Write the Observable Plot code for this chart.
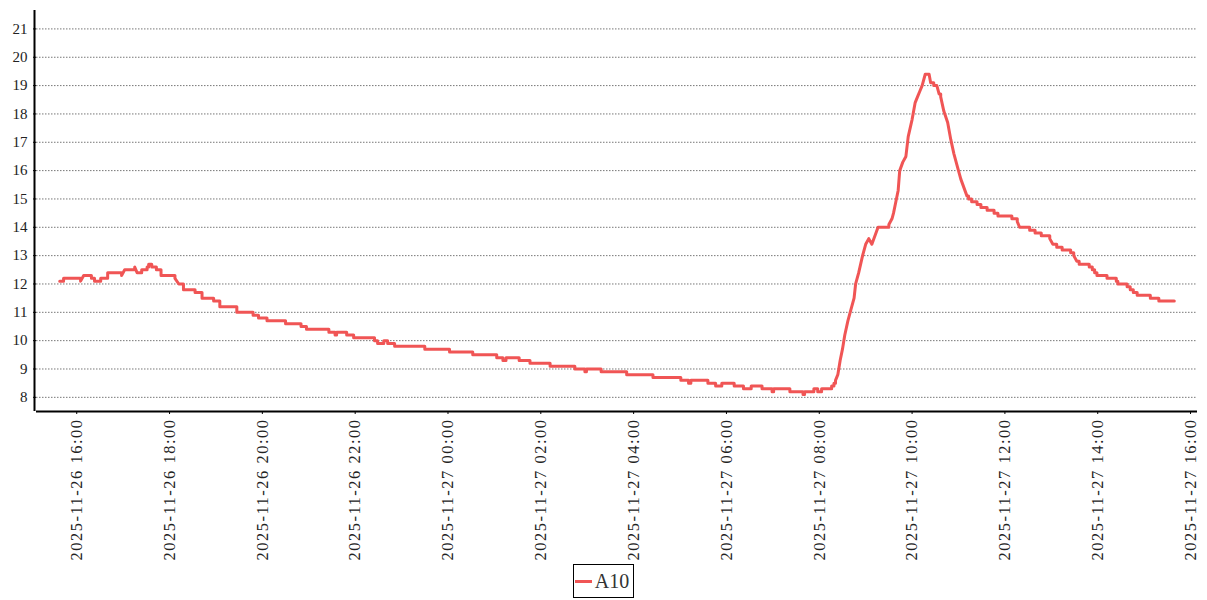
<!DOCTYPE html>
<html>
<head>
<meta charset="utf-8">
<script src="https://cdn.jsdelivr.net/npm/d3@7"></script>
<script src="https://cdn.jsdelivr.net/npm/@observablehq/plot@0.6"></script>
<style>
  body { margin: 0; background: #fff; }
  #legend { display: flex; justify-content: center; margin-top: 2px; }
  .box { display: inline-flex; align-items: center; border: 1px solid #000; height: 32px; padding: 0 4px 0 1px;
         font-family: "Liberation Serif", serif; font-size: 20px; color: #333; }
  .sw { width: 17px; height: 3px; background: #f05555; margin-right: 3px; }
  g[aria-label="x-axis tick label"] text { letter-spacing: 1.5px; }
</style>
</head>
<body>
<div id="chart"></div>
<div id="legend"></div>
<script>
const seriesName = "A10";

const times = [
  "2025-11-26 15:38","2025-11-26 15:43","2025-11-26 16:05","2025-11-26 16:09","2025-11-26 16:19",
  "2025-11-26 16:23","2025-11-26 16:31","2025-11-26 16:40","2025-11-26 16:58","2025-11-26 17:02",
  "2025-11-26 17:15","2025-11-26 17:18","2025-11-26 17:24","2025-11-26 17:31","2025-11-26 17:33",
  "2025-11-26 17:37","2025-11-26 17:43","2025-11-26 17:49","2025-11-26 18:07","2025-11-26 18:12",
  "2025-11-26 18:18","2025-11-26 18:33","2025-11-26 18:42","2025-11-26 18:57","2025-11-26 19:05",
  "2025-11-26 19:27","2025-11-26 19:48","2025-11-26 19:55","2025-11-26 20:06","2025-11-26 20:30",
  "2025-11-26 20:50","2025-11-26 20:57","2025-11-26 21:26","2025-11-26 21:34","2025-11-26 21:36",
  "2025-11-26 21:49","2025-11-26 21:58","2025-11-26 22:25","2025-11-26 22:29","2025-11-26 22:37",
  "2025-11-26 22:42","2025-11-26 22:51","2025-11-26 23:30","2025-11-27 00:02","2025-11-27 00:32",
  "2025-11-27 01:03","2025-11-27 01:11","2025-11-27 01:15","2025-11-27 01:32","2025-11-27 01:46",
  "2025-11-27 02:12","2025-11-27 02:44","2025-11-27 02:57","2025-11-27 02:59","2025-11-27 03:18",
  "2025-11-27 03:51","2025-11-27 04:25","2025-11-27 05:01","2025-11-27 05:11","2025-11-27 05:14",
  "2025-11-27 05:36","2025-11-27 05:46","2025-11-27 05:54","2025-11-27 06:10","2025-11-27 06:22",
  "2025-11-27 06:32","2025-11-27 06:46","2025-11-27 06:59","2025-11-27 07:01","2025-11-27 07:22",
  "2025-11-27 07:39","2025-11-27 07:41","2025-11-27 07:53","2025-11-27 07:58","2025-11-27 08:03",
  "2025-11-27 08:16","2025-11-27 08:19","2025-11-27 08:21","2025-11-27 08:24","2025-11-27 08:27",
  "2025-11-27 08:30","2025-11-27 08:33","2025-11-27 08:37","2025-11-27 08:41","2025-11-27 08:45",
  "2025-11-27 08:47","2025-11-27 08:51","2025-11-27 08:56","2025-11-27 09:00","2025-11-27 09:04",
  "2025-11-27 09:08","2025-11-27 09:12","2025-11-27 09:16","2025-11-27 09:30","2025-11-27 09:34",
  "2025-11-27 09:36","2025-11-27 09:39","2025-11-27 09:42","2025-11-27 09:44","2025-11-27 09:48",
  "2025-11-27 09:52","2025-11-27 09:55","2025-11-27 10:00","2025-11-27 10:04","2025-11-27 10:07",
  "2025-11-27 10:10","2025-11-27 10:13","2025-11-27 10:17","2025-11-27 10:22","2025-11-27 10:24",
  "2025-11-27 10:28","2025-11-27 10:32","2025-11-27 10:35","2025-11-27 10:37","2025-11-27 10:41",
  "2025-11-27 10:46","2025-11-27 10:50","2025-11-27 10:54","2025-11-27 10:59","2025-11-27 11:03",
  "2025-11-27 11:07","2025-11-27 11:11","2025-11-27 11:13","2025-11-27 11:17","2025-11-27 11:24",
  "2025-11-27 11:29","2025-11-27 11:37","2025-11-27 11:46","2025-11-27 11:51","2025-11-27 12:09",
  "2025-11-27 12:16","2025-11-27 12:19","2025-11-27 12:32","2025-11-27 12:39","2025-11-27 12:47",
  "2025-11-27 12:58","2025-11-27 13:02","2025-11-27 13:07","2025-11-27 13:14","2025-11-27 13:25",
  "2025-11-27 13:29","2025-11-27 13:33","2025-11-27 13:36","2025-11-27 13:49","2025-11-27 13:53",
  "2025-11-27 13:56","2025-11-27 13:59","2025-11-27 14:12","2025-11-27 14:24","2025-11-27 14:26",
  "2025-11-27 14:38","2025-11-27 14:42","2025-11-27 14:46","2025-11-27 14:51","2025-11-27 15:08",
  "2025-11-27 15:19","2025-11-27 15:39"
];

const values = [
  12.1,12.2,12.1,12.3,12.2,
  12.1,12.2,12.4,12.3,12.5,
  12.6,12.4,12.5,12.6,12.7,
  12.6,12.5,12.3,12.2,12.0,
  11.8,11.7,11.5,11.4,11.2,
  11.0,10.9,10.8,10.7,10.6,
  10.5,10.4,10.3,10.2,10.3,
  10.2,10.1,10.0,9.9,10.0,
  9.9,9.8,9.7,9.6,9.5,
  9.4,9.3,9.4,9.3,9.2,
  9.1,9.0,8.9,9.0,8.9,
  8.8,8.7,8.6,8.5,8.6,
  8.5,8.4,8.5,8.4,8.3,
  8.4,8.3,8.2,8.3,8.2,
  8.1,8.2,8.3,8.2,8.3,
  8.4,8.5,8.6,8.8,9.3,
  9.7,10.2,10.7,11.1,11.5,
  12.0,12.4,13.0,13.4,13.6,
  13.4,13.7,14.0,14.1,14.3,
  14.5,14.9,15.3,16.0,16.3,
  16.5,17.2,17.8,18.4,18.6,
  18.8,19.0,19.4,19.4,19.1,
  19.0,19.0,18.7,18.6,18.1,
  17.7,17.1,16.6,16.1,15.7,
  15.4,15.1,15.0,14.9,14.8,
  14.7,14.6,14.5,14.4,14.3,
  14.2,14.0,13.9,13.8,13.7,
  13.6,13.4,13.3,13.2,13.1,
  13.0,12.8,12.7,12.6,12.5,
  12.4,12.3,12.2,12.1,12.0,
  11.9,11.8,11.7,11.6,11.5,
  11.4,11.4
];

const yTicks = [8, 9, 10, 11, 12, 13, 14, 15, 16, 17, 18, 19, 20, 21];

const xTickLabels = [
  "2025-11-26 16:00","2025-11-26 18:00","2025-11-26 20:00","2025-11-26 22:00",
  "2025-11-27 00:00","2025-11-27 02:00","2025-11-27 04:00","2025-11-27 06:00",
  "2025-11-27 08:00","2025-11-27 10:00","2025-11-27 12:00","2025-11-27 14:00",
  "2025-11-27 16:00"
];

const parse = d3.utcParse("%Y-%m-%d %H:%M");
const fmt = d3.utcFormat("%Y-%m-%d %H:%M");
const data = times.map((t, i) => ({date: parse(t), value: values[i], series: seriesName}));
const xTicks = xTickLabels.map(parse);
const xDomain = [parse("2025-11-26 15:08"), parse("2025-11-27 16:09")];
const yDomain = [7.5, 21.65];
const lineColor = "#f05555";
const font = "'Liberation Serif', 'DejaVu Serif', serif";

// Curve: readings that hold a value are drawn as steps; closely spaced readings
// with a large change (continuous rise/fall) are joined by straight segments.
function sensorCurve(context) {
  let px, py, started;
  return {
    areaStart() {}, areaEnd() {},
    lineStart() { started = false; },
    lineEnd() {},
    point(x, y) {
      x = +x; y = +y;
      if (!started) { context.moveTo(x, y); started = true; }
      else if (Math.abs(y - py) > 4.5 && (x - px) < 4.2) { context.lineTo(x, y); }
      else { context.lineTo(x, py); context.lineTo(x, y); }
      px = x; py = y;
    }
  };
}

const chart = Plot.plot({
  width: 1207,
  height: 562,
  marginLeft: 36,
  marginRight: 10,
  marginTop: 10,
  marginBottom: 151,
  style: {display: "block", background: "#fff", fontFamily: font, color: "#222", overflow: "visible"},
  x: {type: "utc", domain: xDomain},
  y: {domain: yDomain},
  marks: [
    Plot.gridY(yTicks, {stroke: "#777", strokeOpacity: 1, strokeWidth: 1, strokeDasharray: "1.5,1.5"}),
    Plot.axisY(yTicks, {tickSize: 3, tickPadding: 6, fontSize: 15, fontFamily: font, label: null, stroke: "#000"}),
    Plot.axisX(xTicks, {tickSize: 3, tickPadding: 4, tickRotate: -90, tickFormat: fmt, fontSize: 16.5,
                        fontFamily: font, label: null, stroke: "#000"}),
    Plot.ruleX([xDomain[0]], {stroke: "#000", strokeWidth: 2, dx: -2}),
    Plot.ruleY([yDomain[0]], {stroke: "#000", strokeWidth: 2}),
    Plot.lineY(data, {x: "date", y: "value", curve: sensorCurve, stroke: lineColor, strokeWidth: 3})
  ]
});
document.getElementById("chart").appendChild(chart);

const legend = document.getElementById("legend");
const box = document.createElement("div");
box.className = "box";
const sw = document.createElement("span");
sw.className = "sw";
sw.style.background = lineColor;
const label = document.createElement("span");
label.textContent = seriesName;
box.appendChild(sw);
box.appendChild(label);
legend.appendChild(box);
</script>
</body>
</html>
